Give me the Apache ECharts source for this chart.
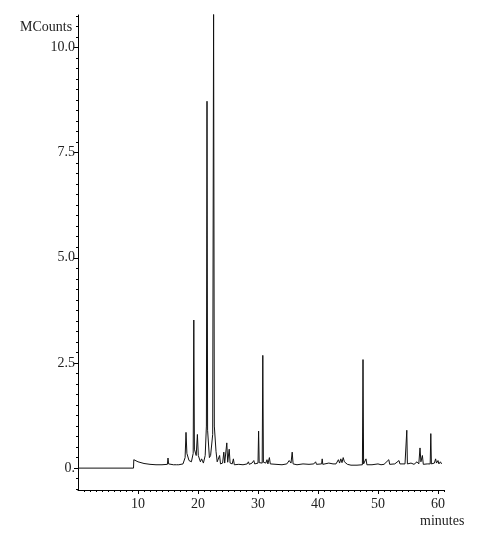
<!DOCTYPE html>
<html><head><meta charset="utf-8">
<script src="https://cdn.jsdelivr.net/npm/echarts@6/dist/echarts.min.js"></script>
<style>html,body{margin:0;padding:0;background:#fff}#c{width:483px;height:536px}</style>
</head><body><div id="c"></div>
<script>
const times = [0,9.25,9.3,9.6,10,10.5,11,12,13,14,14.9,15.0,15.1,15.5,15.7,15.9,16.4,16.6,16.8,17.5,17.85,18.0,18.15,18.5,18.9,19.2,19.3,19.4,19.7,19.9,20.05,20.4,20.6,20.9,21.2,21.4,21.5,21.6,21.9,22.1,22.45,22.6,22.72,23.0,23.2,23.4,23.6,23.75,24.1,24.3,24.45,24.8,24.95,25.2,25.35,25.7,25.9,26.05,26.8,27.5,28.2,28.4,28.55,29.0,29.3,29.45,30.0,30.1,30.2,30.7,30.8,30.9,31.3,31.5,31.65,31.9,32.05,33,34,34.8,35.2,35.5,35.7,35.85,36.5,37.5,38.5,39.3,39.6,39.75,40.6,40.7,40.8,41.8,42.0,42.5,42.8,43.0,43.4,43.6,43.8,44.0,44.2,44.4,44.6,44.9,45.5,46.5,47.4,47.5,47.6,48.0,48.15,49.0,50.0,50.5,51.0,51.8,51.95,52.8,53.5,53.65,54.5,54.7,54.8,54.9,55.5,56.0,56.5,56.8,57.0,57.15,57.4,57.55,58.2,58.7,58.8,58.9,59.4,59.6,59.75,60.0,60.15,60.4,60.6];
const counts = [0,0,0.2,0.17,0.15,0.13,0.11,0.09,0.08,0.08,0.09,0.24,0.1,0.09,0.13,0.08,0.08,0.11,0.08,0.1,0.25,0.85,0.35,0.18,0.15,0.35,3.52,0.45,0.3,0.8,0.3,0.15,0.22,0.12,0.3,1.0,8.72,0.9,0.25,0.3,0.8,10.9,1.0,0.4,0.15,0.12,0.3,0.1,0.12,0.38,0.12,0.6,0.14,0.45,0.12,0.1,0.22,0.08,0.09,0.08,0.1,0.15,0.09,0.12,0.18,0.1,0.12,0.88,0.13,0.12,2.68,0.14,0.12,0.2,0.1,0.25,0.1,0.09,0.08,0.1,0.18,0.12,0.38,0.1,0.08,0.1,0.09,0.1,0.15,0.09,0.1,0.22,0.09,0.12,0.09,0.1,0.14,0.1,0.2,0.12,0.22,0.13,0.25,0.15,0.18,0.09,0.07,0.07,0.08,2.58,0.1,0.22,0.08,0.08,0.1,0.08,0.09,0.2,0.09,0.1,0.18,0.1,0.1,0.1,0.9,0.1,0.12,0.09,0.15,0.1,0.48,0.15,0.3,0.09,0.1,0.1,0.82,0.1,0.12,0.22,0.12,0.18,0.1,0.15,0.1];
const yMajorTicks = [0, 2.5, 5, 7.5, 10];
const yTickLabels = ['0.', '2.5', '5.0', '7.5', '10.0'];
const xMajorTicks = [10, 20, 30, 40, 50, 60];
const xTickLabels = ['10', '20', '30', '40', '50', '60'];
const yMinorTicks = [];
for (let v = -0.5; v <= 10.76; v += 0.25) yMinorTicks.push(Math.round(v * 100) / 100);
const xMinorTicks = [];
for (let v = 1; v <= 61; v += 1) xMinorTicks.push(v);

const font = 'Liberation Serif';
const chart = echarts.init(document.getElementById('c'), null, {renderer: 'canvas'});
const axisBase = {axisLine: {show: true, onZero: false, lineStyle: {color: '#000', width: 1}}, splitLine: {show: false}};
chart.setOption({
  animation: false,
  grid: {left: 78, right: 39, top: 15, bottom: 46},
  xAxis: [
    Object.assign({}, axisBase, {type: 'value', min: 0, max: 61, position: 'bottom',
      axisTick: {show: true, customValues: xMajorTicks, length: 4, lineStyle: {color: '#000'}},
      axisLabel: {customValues: xMajorTicks, formatter: v => xTickLabels[xMajorTicks.indexOf(v)] ?? '', fontFamily: font, fontSize: 14, color: '#222', margin: 7}}),
    Object.assign({}, axisBase, {type: 'value', min: 0, max: 61, position: 'bottom', axisLine: {show: false, onZero: false},
      axisTick: {show: true, customValues: xMinorTicks, length: 2, lineStyle: {color: '#000'}},
      axisLabel: {show: false}})
  ],
  yAxis: [
    Object.assign({}, axisBase, {type: 'value', min: -0.52, max: 10.77, position: 'left',
      axisTick: {show: true, customValues: yMajorTicks, length: 4, lineStyle: {color: '#000'}},
      axisLabel: {customValues: yMajorTicks, formatter: v => yTickLabels[yMajorTicks.indexOf(v)] ?? '', fontFamily: font, fontSize: 14, color: '#222', margin: 3}}),
    Object.assign({}, axisBase, {type: 'value', min: -0.52, max: 10.77, position: 'left', axisLine: {show: false, onZero: false},
      axisTick: {show: true, customValues: yMinorTicks, length: 2, lineStyle: {color: '#000'}},
      axisLabel: {show: false}})
  ],
  graphic: [
    {type: 'text', left: 20, top: 20, style: {text: 'MCounts', fontFamily: font, fontSize: 14, fill: '#222'}},
    {type: 'text', left: 420, top: 514, style: {text: 'minutes', fontFamily: font, fontSize: 14, fill: '#222'}}
  ],
  series: [{
    type: 'line', xAxisIndex: 0, yAxisIndex: 0, showSymbol: false, symbol: 'none', clip: true,
    lineStyle: {color: '#111', width: 1},
    data: times.map((t, i) => [t, counts[i]])
  }]
});
</script></body></html>
